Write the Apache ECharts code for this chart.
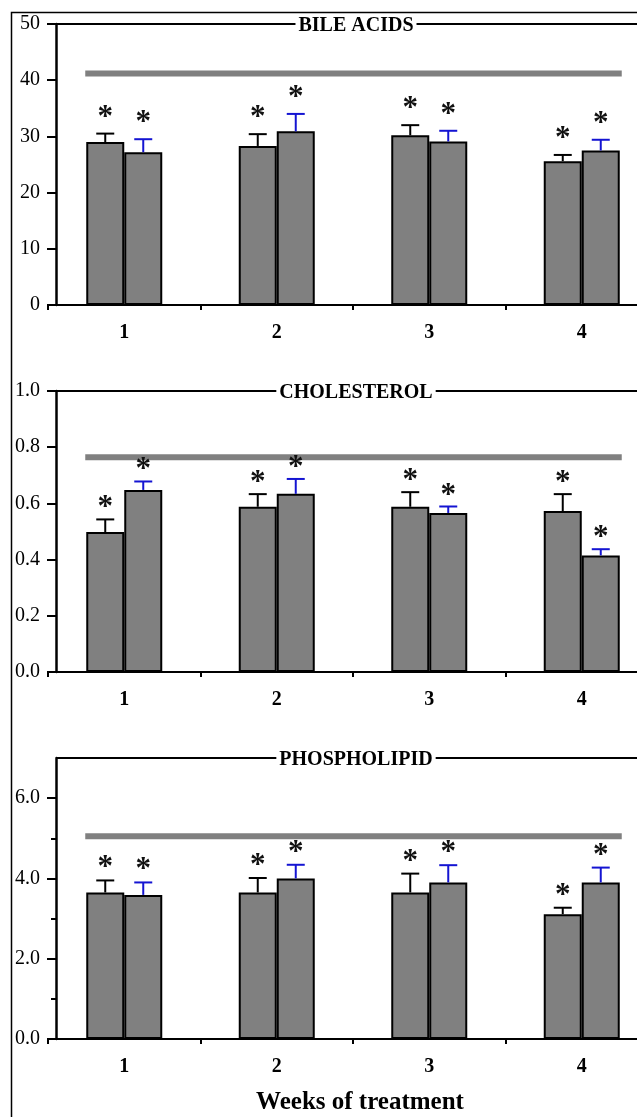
<!DOCTYPE html>
<html>
<head>
<meta charset="utf-8">
<script src="https://cdn.jsdelivr.net/npm/echarts@6/dist/echarts.min.js"></script>
<style>
html,body{margin:0;padding:0;background:#fff;}
#chart{width:637px;height:1117px;}
</style>
</head>
<body>
<div id="chart"></div>
<script>
// ---- data ----
const weeks = ['1', '2', '3', '4'];

const bileTitle = 'BILE ACIDS';
const bileA = [29.0, 28.3, 30.2, 25.6];
const bileAErr = [1.5, 2.1, 1.8, 1.1];
const bileB = [27.2, 30.9, 29.1, 27.5];
const bileBErr = [2.3, 3.1, 1.9, 1.9];
const bileRef = 41.2;
const bileTicks = [0, 10, 20, 30, 40, 50];

const cholTitle = 'CHOLESTEROL';
const cholA = [0.498, 0.588, 0.588, 0.573];
const cholAErr = [0.045, 0.045, 0.052, 0.060];
const cholB = [0.648, 0.634, 0.566, 0.415];
const cholBErr = [0.030, 0.053, 0.023, 0.022];
const cholRef = 0.764;
const cholTicks = [0, 0.2, 0.4, 0.6, 0.8, 1.0];

const phosTitle = 'PHOSPHOLIPID';
const phosA = [3.65, 3.65, 3.65, 3.11];
const phosAErr = [0.30, 0.36, 0.47, 0.16];
const phosB = [3.59, 4.00, 3.90, 3.90];
const phosBErr = [0.31, 0.34, 0.43, 0.37];
const phosRef = 5.05;
const phosTicks = [0, 2, 4, 6];
const phosMinorTicks = [1, 3, 5];

const xName = 'Weeks of treatment';

// ---- styles ----
const FONT = '"Liberation Serif", "Times New Roman", serif';
const BAR_W = 38;
const HALF = BAR_W / 2;
const GRAY = '#808080';
const BLUE = '#1414d2';

const panels = [
  {title: bileTitle, a: bileA, aErr: bileAErr, b: bileB, bErr: bileBErr, ref: bileRef,
   ticks: bileTicks, max: 50, fmt: v => String(v), top: 24, starDy: 16, topTick: true},
  {title: cholTitle, a: cholA, aErr: cholAErr, b: cholB, bErr: cholBErr, ref: cholRef,
   ticks: cholTicks, max: 1.0, fmt: v => v.toFixed(1), top: 391, starDy: 11, topTick: true},
  {title: phosTitle, a: phosA, aErr: phosAErr, b: phosB, bErr: phosBErr, ref: phosRef,
   ticks: phosTicks, minor: phosMinorTicks, max: 7, fmt: v => v.toFixed(1), top: 758, starDy: 12, topTick: false}
];

function errRender(dx, color, starDy) {
  return function (params, api) {
    const i = api.value(0), v = api.value(1), e = api.value(2);
    const base = api.coord([i, v]);
    const tip = api.coord([i, v + e]);
    const x = base[0] + dx;
    return {
      type: 'group',
      children: [
        {type: 'line', shape: {x1: x, y1: base[1], x2: x, y2: tip[1]}, style: {stroke: color, lineWidth: 2}},
        {type: 'line', shape: {x1: x - 9, y1: tip[1], x2: x + 9, y2: tip[1]}, style: {stroke: color, lineWidth: 2}},
        {type: 'text', x: x, y: tip[1] - starDy,
         style: {text: '*', font: 'bold 31px ' + FONT, fill: '#111', align: 'center', verticalAlign: 'middle'}}
      ]
    };
  };
}

function refRender(params, api) {
  const v = api.value(1);
  const p0 = api.coord([0, v]);
  const p3 = api.coord([weeks.length - 1, v]);
  return {
    type: 'line',
    shape: {x1: p0[0] - BAR_W - 1, y1: p0[1], x2: p3[0] + BAR_W + 2, y2: p3[1]},
    style: {stroke: GRAY, lineWidth: 6}
  };
}

// top frame line of a panel: from the y axis to the right edge, at the axis max
function topLineRender(params, api) {
  const v = api.value(1);
  const p0 = api.coord([0, v]);
  const cs = params.coordSys;
  return {
    type: 'line',
    shape: {x1: cs.x + 8, y1: p0[1], x2: cs.x + cs.width, y2: p0[1]},
    style: {stroke: '#000', lineWidth: 2}
  };
}

const grid = [], xAxis = [], yAxis = [], series = [], title = [];

panels.forEach((p, g) => {
  grid.push({left: 48, top: p.top, width: 610, height: 281, containLabel: false, outerBoundsMode: 'none'});

  xAxis.push({
    gridIndex: g, type: 'category', data: weeks, position: 'bottom',
    axisLine: {onZero: false, lineStyle: {color: '#000', width: 2}},
    axisTick: {show: true, length: 5, lineStyle: {color: '#000', width: 2}},
    axisLabel: {color: '#000', fontFamily: FONT, fontWeight: 'bold', fontSize: 20, margin: 18},
    splitLine: {show: false}
  });

  yAxis.push({
    gridIndex: g, type: 'value', min: 0, max: p.max, offset: -8, position: 'left',
    axisLine: {show: true, onZero: false, lineStyle: {color: '#000', width: 2.5}},
    axisTick: {show: true, length: 9, customValues: p.topTick ? p.ticks : p.ticks, lineStyle: {color: '#000', width: 2}},
    axisLabel: {customValues: p.ticks, formatter: p.fmt, color: '#000', fontFamily: FONT, fontSize: 20, margin: 16},
    splitLine: {show: false}
  });
  const yIdx = yAxis.length - 1;
  if (p.minor) {
    yAxis.push({
      gridIndex: g, type: 'value', min: 0, max: p.max, offset: -8, position: 'left',
      axisLine: {show: false},
      axisTick: {show: true, length: 5, customValues: p.minor, lineStyle: {color: '#000', width: 2}},
      axisLabel: {show: false}, splitLine: {show: false}
    });
  }
  const xIdx = g;

  series.push({
    type: 'custom', xAxisIndex: xIdx, yAxisIndex: yIdx, renderItem: topLineRender,
    data: [[0, p.max]], encode: {x: 0, y: 1}, silent: true, z: 0, clip: false
  });
  series.push({
    type: 'custom', xAxisIndex: xIdx, yAxisIndex: yIdx, renderItem: refRender,
    data: [[0, p.ref]], encode: {x: 0, y: 1}, silent: true, z: 1
  });
  series.push({
    type: 'bar', xAxisIndex: xIdx, yAxisIndex: yIdx, data: p.a, barWidth: BAR_W, barGap: '0%',
    itemStyle: {color: GRAY, borderColor: '#000', borderWidth: 2}, z: 3
  });
  series.push({
    type: 'bar', xAxisIndex: xIdx, yAxisIndex: yIdx, data: p.b, barWidth: BAR_W, barGap: '0%',
    itemStyle: {color: GRAY, borderColor: '#000', borderWidth: 2}, z: 3
  });
  series.push({
    type: 'custom', xAxisIndex: xIdx, yAxisIndex: yIdx, renderItem: errRender(-HALF, '#000', p.starDy),
    data: p.a.map((v, i) => [i, v, p.aErr[i]]), encode: {x: 0, y: 1}, z: 4
  });
  series.push({
    type: 'custom', xAxisIndex: xIdx, yAxisIndex: yIdx, renderItem: errRender(HALF, BLUE, p.starDy),
    data: p.b.map((v, i) => [i, v, p.bErr[i]]), encode: {x: 0, y: 1}, z: 4
  });

  title.push({
    text: p.title, left: 353, top: p.top + 1, textAlign: 'center', textVerticalAlign: 'middle',
    backgroundColor: '#fff', padding: [1, 3],
    textStyle: {fontFamily: FONT, fontWeight: 'bold', fontSize: 20, color: '#000'}
  });
});

title.push({
  text: xName, left: 360, top: 1103, textAlign: 'center', textVerticalAlign: 'middle', padding: 0,
  textStyle: {fontFamily: FONT, fontWeight: 'bold', fontSize: 25, color: '#000'}
});

const chart = echarts.init(document.getElementById('chart'), null, {renderer: 'canvas'});
chart.setOption({
  animation: false,
  backgroundColor: '#fff',
  graphic: [{
    type: 'rect', left: 9, top: 10, z: -10,
    shape: {width: 700, height: 1200},
    style: {fill: 'none', stroke: '#000', lineWidth: 1.5}
  }],
  title, grid, xAxis, yAxis, series
});
</script>
</body>
</html>
